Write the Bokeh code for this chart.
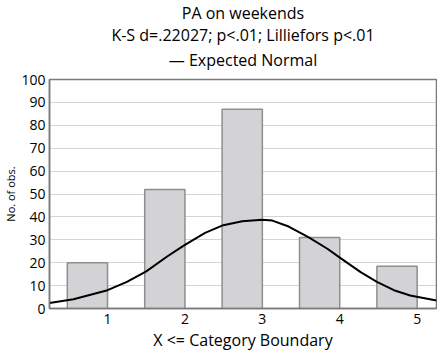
from bokeh.plotting import figure
from bokeh.models import Title, FixedTicker, Range1d
from bokeh.embed import file_html
from bokeh.resources import INLINE

# ---- data ----
categories = [1, 2, 3, 4, 5]
tick_labels = ["1", "2", "3", "4", "5"]
counts = [20, 52, 87, 31, 18.5]
curve_x = [0.25, 0.56, 1.0, 1.25, 1.5, 1.77, 1.94, 2.0, 2.26, 2.48, 2.74, 3.0,
           3.13, 3.34, 3.6, 3.84, 4.01, 4.27, 4.48, 4.7, 4.91, 5.25]
curve_y = [2.4, 4.0, 8.0, 11.6, 16.2, 22.7, 26.5, 27.8, 33.0, 36.2, 38.1, 38.8,
           38.4, 35.8, 31.1, 26.1, 22.0, 15.9, 11.6, 8.0, 5.7, 3.5]
y_ticks = list(range(0, 101, 10))

title1 = "PA on weekends"
title2 = "K-S d=.22027; p<.01; Lilliefors p<.01"
legend_text = "\u2014 Expected Normal"
x_label = "X <= Category Boundary"
y_label = "No. of obs."

FONT = "Open Sans"
BAR_W = 0.52

p = figure(width=437, height=356, output_backend="svg", toolbar_location=None,
           x_range=Range1d(0.25, 5.25), y_range=Range1d(0, 100),
           min_border_left=49, min_border_right=1, min_border_top=78,
           min_border_bottom=48, min_border=0, title=None)
p.background_fill_color = "white"
p.border_fill_color = "white"
p.outline_line_color = "#7a7a7a"
p.outline_line_width = 1.5

p.vbar(x=[c - BAR_W / 2 for c in categories], width=BAR_W, top=counts, bottom=0,
       fill_color="#d3d3d5", line_color="#8e8e8e", line_width=1.5)
p.line(curve_x, curve_y, line_color="black", line_width=2)

p.xgrid.visible = False
p.ygrid.grid_line_color = "#a8a8a8"
p.ygrid.grid_line_dash = "1 1"
p.ygrid.grid_line_width = 1
p.ygrid.ticker = FixedTicker(ticks=y_ticks)

p.xaxis.ticker = FixedTicker(ticks=categories)
p.xaxis.major_label_overrides = {c: t for c, t in zip(categories, tick_labels)}
p.yaxis.ticker = FixedTicker(ticks=y_ticks)
for ax in (p.xaxis, p.yaxis):
    ax.axis_line_color = "#7a7a7a"
    ax.axis_line_width = 1.5
    ax.major_tick_out = 0
    ax.major_tick_in = 0
    ax.minor_tick_out = 0
    ax.minor_tick_in = 0
    ax.major_label_text_font = FONT
    ax.major_label_text_font_size = "14px"
    ax.major_label_text_color = "black"
    ax.axis_label_text_font = FONT
    ax.axis_label_text_font_style = "normal"
    ax.axis_label_text_color = "black"
p.xaxis.axis_label = x_label
p.xaxis.axis_label_text_font_size = "16px"
p.xaxis.major_label_standoff = 5
p.xaxis.axis_label_standoff = 2
p.yaxis.axis_label = y_label
p.yaxis.axis_label_text_font_size = "11px"
p.yaxis.major_label_standoff = 4
p.yaxis.axis_label_standoff = 0

# small spacer between the frame and the legend line
p.add_layout(Title(text=" ", text_font_size="1px", standoff=3, offset=0), "above")
for txt, so in ((legend_text, 5), (title2, -2), (title1, -2)):
    p.add_layout(Title(text=txt, align="center", text_font=FONT,
                       text_font_size="16px", text_font_style="normal",
                       text_color="black", standoff=so, offset=0), "above")

open("out.html", "w").write(file_html(p, INLINE))
